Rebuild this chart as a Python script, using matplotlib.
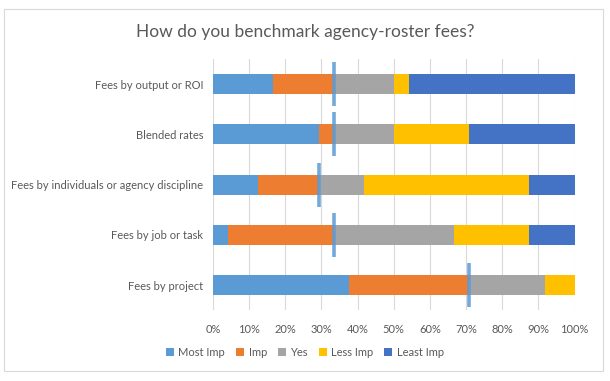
import numpy as np
import matplotlib.pyplot as plt
from matplotlib.patches import Rectangle

plt.rcParams['font.family'] = ['Lato', 'DejaVu Sans']

categories = ["Fees by output or ROI", "Blended rates",
              "Fees by individuals or agency discipline",
              "Fees by job or task", "Fees by project"]
series = ["Most Imp", "Imp", "Yes", "Less Imp", "Least Imp"]
most_imp = [16.7, 29.2, 12.5, 4.2, 37.5]
imp = [16.7, 4.2, 16.7, 29.2, 33.3]
yes = [16.7, 16.7, 12.5, 33.3, 20.9]
less_imp = [4.2, 20.8, 45.8, 20.8, 8.3]
least_imp = [45.7, 29.1, 12.5, 12.5, 0.0]
colors = ["#5B9BD5", "#ED7D31", "#A5A5A5", "#FFC000", "#4472C4"]

values = [most_imp, imp, yes, less_imp, least_imp]

fig = plt.figure(figsize=(6.1, 3.81), dpi=100)
ax = fig.add_axes([0.349, 0.186, 0.593, 0.659])

y = np.arange(len(categories))
left = np.zeros(len(categories))
for name, vals, c in zip(series, values, colors):
    ax.barh(y, vals, left=left, height=0.4, color=c, label=name, zorder=2)
    left = left + np.array(vals)

# marker at the Most Imp + Imp boundary
split = np.array(most_imp) + np.array(imp)
ax.plot(split, y, linestyle='none', marker='|', markersize=32,
        markeredgewidth=2.6, color="#5B9BD5", alpha=0.85, zorder=3)

ax.set_xlim(0, 100)
ax.set_ylim(len(categories) - 0.5, -0.5)
ax.set_xticks(np.arange(0, 101, 10))
ax.set_xticklabels([f"{t}%" for t in range(0, 101, 10)])
ax.set_yticks(y)
ax.set_yticklabels(categories)
ax.tick_params(axis='both', length=0, labelsize=8, colors="#595959")
ax.tick_params(axis='x', pad=10)
ax.tick_params(axis='y', pad=7)
ax.grid(axis='x', color="#D9D9D9", linewidth=0.8, zorder=0)
ax.set_axisbelow(True)
for s in ax.spines.values():
    s.set_visible(False)

fig.text(0.5, 0.915, "How do you benchmark agency-roster fees?",
         ha='center', va='center', fontsize=12.5, color="#595959")

leg = fig.legend(loc='center', bbox_to_anchor=(0.5, 0.075), ncol=5,
                 frameon=False, fontsize=8, handlelength=0.7, handleheight=0.7,
                 handletextpad=0.4, columnspacing=1.0)
for t in leg.get_texts():
    t.set_color("#595959")

fig.patches.append(Rectangle((0.007, 0.026), 0.982, 0.95, transform=fig.transFigure,
                             fill=False, edgecolor="#D9D9D9", linewidth=0.8))

fig.savefig("out.png", dpi=100)
